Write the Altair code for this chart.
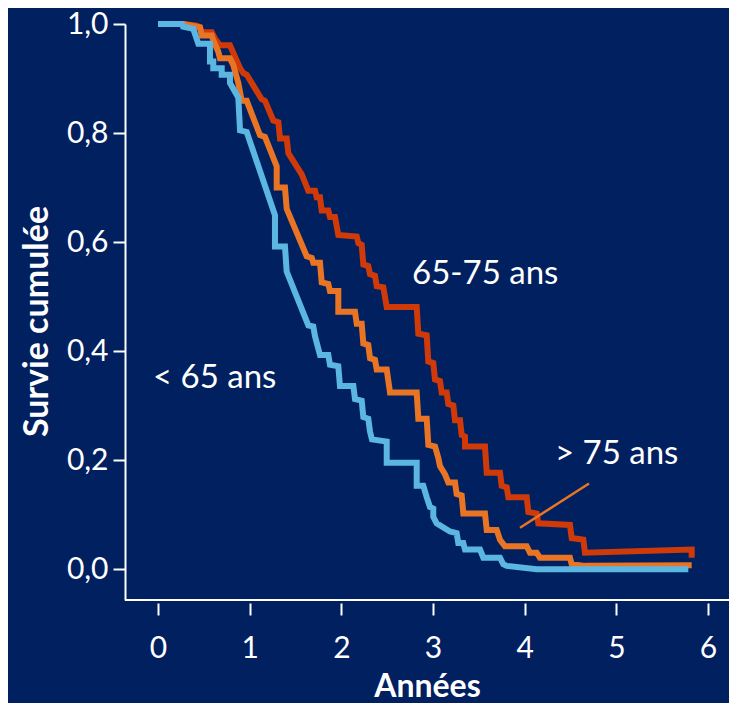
import altair as alt
import pandas as pd

# ---- data ----
t_lt65 = [0, 0.262, 0.273, 0.385, 0.44, 0.567, 0.567, 0.603, 0.603, 0.695, 0.695, 0.785, 0.785, 0.876, 0.895, 0.968,
          1.276, 1.276, 1.385, 1.404, 1.640, 1.694, 1.713, 1.767, 1.858, 1.876, 1.967, 1.985, 2.131, 2.149, 2.222,
          2.240, 2.294, 2.313, 2.334, 2.495, 2.495, 2.822, 2.822, 2.894, 2.931, 2.967, 3.003, 3.003, 3.040, 3.185,
          3.258, 3.276, 3.330, 3.349, 3.513, 3.549, 3.731, 3.767, 3.804, 4.131, 4.603, 5.785]
s_lt65 = [1.0, 1.0, 0.995, 0.991, 0.964, 0.964, 0.931, 0.931, 0.919, 0.919, 0.907, 0.907, 0.892, 0.865, 0.805, 0.802,
          0.649, 0.592, 0.592, 0.546, 0.447, 0.445, 0.427, 0.393, 0.393, 0.375, 0.372, 0.336, 0.336, 0.312, 0.309,
          0.279, 0.276, 0.252, 0.238, 0.234, 0.195, 0.195, 0.153, 0.153, 0.132, 0.114, 0.111, 0.096, 0.084, 0.069,
          0.066, 0.048, 0.048, 0.036, 0.036, 0.021, 0.021, 0.009, 0.006, 0.0, 0.0, 0.0]

t_gt75 = [0, 0.276, 0.458, 0.477, 0.586, 0.603, 0.658, 0.676, 0.785, 0.821, 0.876, 0.913, 0.968, 1.113, 1.167, 1.295,
          1.295, 1.385, 1.404, 1.622, 1.677, 1.694, 1.767, 1.786, 1.858, 1.876, 1.967, 1.967, 2.149, 2.168, 2.222,
          2.240, 2.294, 2.313, 2.367, 2.386, 2.495, 2.531, 2.822, 2.840, 2.931, 2.949, 3.022, 3.058, 3.076, 3.131,
          3.167, 3.240, 3.258, 3.313, 3.331, 3.567, 3.586, 3.695, 3.731, 3.785, 4.022, 4.058, 4.131, 4.167, 4.494,
          4.513, 4.658, 5.822]
s_gt75 = [1.0, 1.0, 0.994, 0.979, 0.979, 0.970, 0.949, 0.937, 0.937, 0.925, 0.892, 0.859, 0.859, 0.796, 0.793, 0.739,
          0.700, 0.700, 0.661, 0.574, 0.571, 0.562, 0.562, 0.526, 0.523, 0.510, 0.510, 0.472, 0.472, 0.450, 0.450,
          0.414, 0.411, 0.387, 0.384, 0.366, 0.366, 0.324, 0.324, 0.276, 0.276, 0.228, 0.225, 0.204, 0.189, 0.174,
          0.159, 0.159, 0.138, 0.135, 0.102, 0.102, 0.072, 0.072, 0.054, 0.042, 0.042, 0.030, 0.030, 0.021, 0.021,
          0.009, 0.006, 0.007]

t_65_75 = [0, 0.273, 0.422, 0.458, 0.477, 0.586, 0.622, 0.676, 0.785, 0.895, 0.931, 0.968, 1.022, 1.131, 1.167, 1.258,
           1.313, 1.331, 1.404, 1.422, 1.568, 1.640, 1.713, 1.731, 1.767, 1.786, 1.858, 1.876, 1.931, 1.967, 2.168,
           2.186, 2.222, 2.240, 2.294, 2.313, 2.367, 2.386, 2.458, 2.495, 2.822, 2.840, 2.931, 2.949, 3.003, 3.022,
           3.076, 3.095, 3.149, 3.167, 3.222, 3.240, 3.295, 3.313, 3.349, 3.349, 3.567, 3.586, 3.731, 3.749, 3.804,
           3.822, 4.022, 4.040, 4.131, 4.149, 4.494, 4.513, 4.640, 4.658, 5.822, 5.822]
s_65_75 = [1.0, 1.0, 0.997, 0.994, 0.985, 0.985, 0.973, 0.961, 0.961, 0.919, 0.910, 0.907, 0.892, 0.862, 0.859, 0.823,
           0.820, 0.790, 0.790, 0.763, 0.724, 0.694, 0.694, 0.682, 0.682, 0.658, 0.658, 0.646, 0.646, 0.613, 0.610,
           0.598, 0.595, 0.559, 0.556, 0.541, 0.538, 0.519, 0.517, 0.481, 0.481, 0.432, 0.429, 0.381, 0.378, 0.348,
           0.345, 0.324, 0.324, 0.303, 0.300, 0.273, 0.273, 0.246, 0.243, 0.225, 0.225, 0.177, 0.177, 0.153, 0.150,
           0.132, 0.132, 0.105, 0.102, 0.084, 0.081, 0.057, 0.054, 0.030, 0.036, 0.021]

labels = ["65-75 ans", "< 65 ans", "> 75 ans"]
label_t = [2.771, -0.055, 4.330]
label_s = [0.541, 0.351, 0.211]

pointer_t = [3.949, 4.702]
pointer_s = [0.076, 0.157]

x_ticks = [0, 1, 2, 3, 4, 5, 6]
y_ticks = [0.0, 0.2, 0.4, 0.6, 0.8, 1.0]

# ---- style ----
BG = "#002060"
WHITE = "#ffffff"
RED = "#d03a08"
ORANGE = "#e97524"
BLUE = "#5bb6e2"
FONT = "Lato"

W, H = 604, 576
X_DOM = [-0.36, 6.229]
Y_DOM = [-0.0566, 1.0]


def curve_df(ts, ss):
    assert len(ts) == len(ss)
    return pd.DataFrame({"t": ts, "s": ss, "order": list(range(len(ts)))})


xs = alt.Scale(domain=X_DOM, nice=False, zero=False)
ys = alt.Scale(domain=Y_DOM, nice=False, zero=False)

x_axis = alt.Axis(
    values=x_ticks, format="d", domain=False, grid=False, offset=3,
    ticks=True, tickSize=12, tickWidth=2, tickColor=WHITE,
    labelColor=WHITE, labelFont=FONT, labelFontSize=30, labelBaseline="middle",
    labelPadding=33, labelFlush=False,
    title="Années", titleColor=WHITE, titleFont=FONT, titleFontSize=32,
    titleFontWeight="bold", titleBaseline="alphabetic", titleY=93,
)
y_axis = alt.Axis(
    values=y_ticks, labelExpr="replace(format(datum.value, '.1f'), '.', ',')",
    domain=True, domainColor=WHITE, domainWidth=2, grid=False,
    ticks=True, tickSize=12, tickWidth=2, tickColor=WHITE,
    labelColor=WHITE, labelFont=FONT, labelFontSize=30, labelPadding=5, labelFlush=False,
    title="Survie cumulée", titleColor=WHITE, titleFont=FONT, titleFontSize=34,
    titleFontWeight="bold", titleBaseline="alphabetic", titleX=-78, titleY=297,
    titleAngle=270,
)

X_ENC = alt.X("t:Q", scale=xs, axis=x_axis)
Y_ENC = alt.Y("s:Q", scale=ys, axis=y_axis)


def line_layer(ts, ss, color):
    return alt.Chart(curve_df(ts, ss)).mark_line(
        color=color, strokeWidth=6, strokeJoin="miter", strokeCap="butt"
    ).encode(x=X_ENC, y=Y_ENC, order="order:Q")


red = line_layer(t_65_75, s_65_75, RED)
orange = line_layer(t_gt75, s_gt75, ORANGE)
blue = line_layer(t_lt65, s_lt65, BLUE)

baseline = alt.Chart(pd.DataFrame({"a": [0]})).mark_rule(color=WHITE, strokeWidth=2).encode(
    x=alt.value(0), x2=alt.value(W), y=alt.value(H)
)

pointer = alt.Chart(pd.DataFrame({"t": pointer_t, "s": pointer_s, "order": [0, 1]})).mark_line(
    color=ORANGE, strokeWidth=2.5
).encode(x=X_ENC, y=Y_ENC, order="order:Q")

text = alt.Chart(pd.DataFrame({"label": labels, "t": label_t, "s": label_s})).mark_text(
    align="left", baseline="middle", color=WHITE, font=FONT, fontSize=33
).encode(x=X_ENC, y=Y_ENC, text="label:N")

chart = alt.layer(red, orange, blue, baseline, pointer, text).properties(
    width=W, height=H,
    autosize=alt.AutoSizeParams(type="none"),
    padding={"left": 117, "top": 16, "right": 0, "bottom": 103},
).configure(
    background=BG,
).configure_view(
    stroke=None,
)

chart.save("out.html", embed_options={"renderer": "svg", "actions": False})
